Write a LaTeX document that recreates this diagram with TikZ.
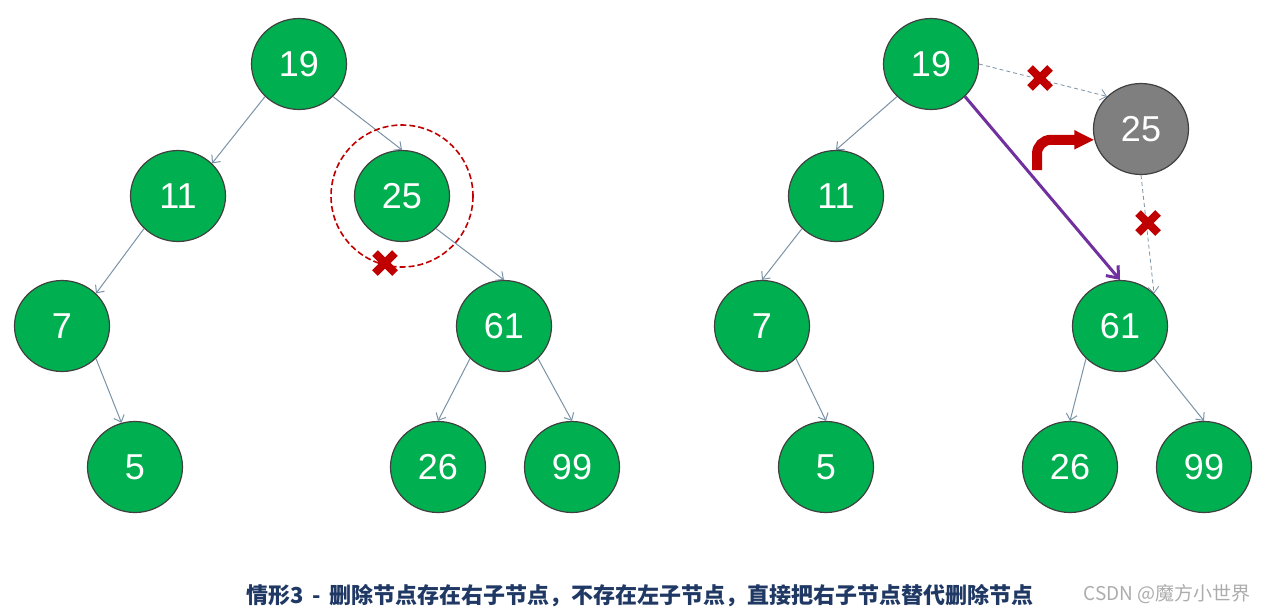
\documentclass[tikz,border=0pt]{standalone}
\usepackage{fontspec}
\usetikzlibrary{shapes.geometric,arrows.meta}
\newfontfamily\numfont{Liberation Sans}
\newfontfamily\cjk{Noto Sans CJK SC}
\definecolor{grn}{RGB}{0,176,80}
\definecolor{gry}{RGB}{127,127,127}
\definecolor{rim}{RGB}{64,64,64}
\definecolor{lnkc}{RGB}{122,146,166}
\definecolor{redx}{RGB}{192,0,0}
\definecolor{purp}{RGB}{112,48,160}
\definecolor{navy}{RGB}{31,56,100}
\begin{document}
\begin{tikzpicture}[x=0.5pt, y=-0.5pt,
  nd/.style={ellipse, draw=rim, fill=grn, line width=0.6pt, minimum width=47.5pt,
    minimum height=45.5pt, inner sep=0pt, text=white, font=\numfont\fontsize{18}{20}\selectfont},
  nd0/.style={nd, fill=gry},
  lnk/.style={draw=lnkc, line width=0.5pt, -{Straight Barb[length=3pt,width=5.5pt]}},
  lnk0/.style={lnk, dash pattern=on 2pt off 1.5pt, line width=0.4pt},
  jump/.style={draw=purp, line width=1.5pt, -{Straight Barb[length=5pt,width=8pt]}},
  turn/.style={draw=redx, line width=5pt, rounded corners=7pt, -{Triangle[length=10pt,width=9pt]}},
  ring/.style={draw=redx, line width=0.8pt, dash pattern=on 3pt off 1.5pt},
  cross/.style={draw=redx, line width=4pt},
  captxt/.style={font=\cjk\bfseries\fontsize{11}{13}\selectfont, text=navy},
  wm/.style={font=\cjk\fontsize{9.5}{11}\selectfont, text=gray!65, anchor=east}
]
\useasboundingbox (0,0) rectangle (1269,612);

%% Left tree: before deleting 25
\foreach \n/\x/\y in {19/299/64, 11/178/196, 25/402/196, 7/62/326, 61/504/326,
  5/135/467, 26/438/467, 99/572/467} {
  \node[nd] (L\n) at (\x,\y) {\n};
}
\draw[lnk] (L19.south west) -- (L11.north east);
\draw[lnk] (L19.south east) -- (L25.north);
\draw[lnk] (L11.south west) -- (L7.north east);
\draw[lnk] (L7.south east)  -- (L5.107);
\draw[lnk] (L25.south east) -- (L61.north);
\draw[lnk] (L61.south west) -- (L26.north);
\draw[lnk] (L61.south east) -- (L99.north);
\draw[ring] (L25) circle[radius=71];

%% Right tree: 61 takes the place of 25
\foreach \n/\x/\y in {19/931/64, 11/836/196, 7/762/326, 61/1120/326,
  5/826/467, 26/1070/467, 99/1204/467} {
  \node[nd] (R\n) at (\x,\y) {\n};
}
\node[nd0] (R25) at (1141,129) {25};
\draw[lnk] (R19.south west) -- (R11.north);
\draw[lnk] (R11.south west) -- (R7.north);
\draw[lnk] (R7.south east)  -- (R5.north);
\draw[lnk] (R61.south west) -- (R26.north);
\draw[lnk] (R61.south east) -- (R99.north);
\draw[lnk0] (R19.east) -- (R25.north west);
\draw[lnk0] (R25.south) -- (R61.north east);
\draw[jump] (R19.south east) -- (R61.north);
\coordinate (turn0) at (1037,170);
\draw[turn] (turn0) |- (R25.193);

%% Broken links
\foreach \cx/\cy in {385/263, 1040/78, 1148/223} {
  \draw[cross] (\cx-10,\cy-10) -- (\cx+10,\cy+10) (\cx-10,\cy+10) -- (\cx+10,\cy-10);
}

%% Caption
\node[captxt] (caption) at (640,596) {情形3\ \,-\ \,删除节点存在右子节点，不存在左子节点，直接把右子节点替代删除节点};
\node[wm] (wm) at (1258,594) {CSDN @魔方小世界};
\end{tikzpicture}
\end{document}
